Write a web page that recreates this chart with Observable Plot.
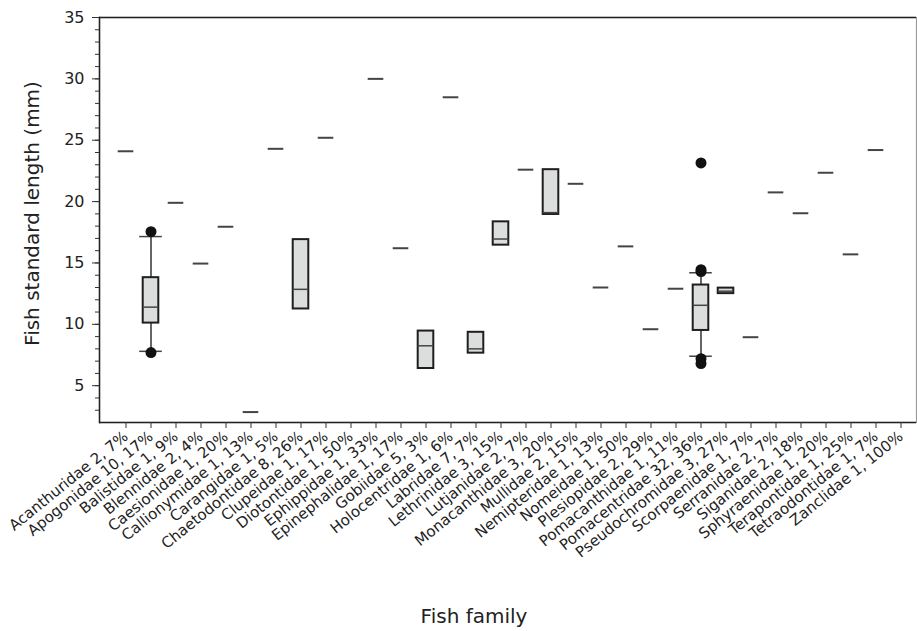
<!DOCTYPE html>
<html>
<head>
<meta charset="utf-8">
<script src="https://cdn.jsdelivr.net/npm/d3@7"></script>
<script src="https://cdn.jsdelivr.net/npm/@observablehq/plot@0.6"></script>
<style>
  html, body { margin: 0; padding: 0; background: #fff; }
  #chart svg { display: block; }
</style>
</head>
<body>
<div id="chart"></div>
<script>
// Categories and tick-label parts
const families = ["Acanthuridae","Apogonidae","Balistidae","Blennidae","Caesionidae","Callionymidae","Carangidae","Chaetodontidae","Clupeidae","Diotontidae","Ephippidae","Epinephalidae","Gobiidae","Holocentridae","Labridae","Lethrinidae","Lutjanidae","Monacanthidae","Mullidae","Nemipteridae","Nomeidae","Plesiopidae","Pomacanthidae","Pomacentridae","Pseudochromidae","Scorpaenidae","Serranidae","Siganidae","Sphyraenidae","Terapontidae","Tetraodontidae","Zanclidae"];
const familyCounts = [2,10,1,2,1,1,1,8,1,1,1,1,5,1,7,3,2,3,2,1,1,2,1,32,3,1,2,2,1,1,1,1];
const familyPercents = [7,17,9,4,20,13,5,26,17,50,33,17,3,6,7,15,7,20,15,13,50,29,11,36,27,7,7,18,20,25,7,100];
const yTicks = [5,10,15,20,25,30,35];

// Single-value families (drawn as a line)
const singleFamily = ["Acanthuridae","Balistidae","Blennidae","Caesionidae","Callionymidae","Carangidae","Clupeidae","Ephippidae","Epinephalidae","Holocentridae","Lutjanidae","Mullidae","Nemipteridae","Nomeidae","Plesiopidae","Pomacanthidae","Scorpaenidae","Serranidae","Siganidae","Sphyraenidae","Terapontidae","Tetraodontidae"];
const singleValue = [24.1,19.9,14.95,17.95,2.85,24.3,25.2,30.0,16.2,28.5,22.6,21.45,13.0,16.35,9.6,12.9,8.95,20.75,19.05,22.35,15.7,24.2];

// Boxes
const boxFamily = ["Apogonidae","Chaetodontidae","Gobiidae","Labridae","Lethrinidae","Monacanthidae","Pomacentridae","Pseudochromidae"];
const boxQ1 = [10.1,11.25,6.4,7.65,16.45,18.95,9.5,12.5];
const boxMedian = [11.4,12.85,8.25,8.0,16.95,19.1,11.55,12.7];
const boxQ3 = [13.8,16.9,9.45,9.35,18.35,22.6,13.2,12.95];

// Whiskers
const whiskerFamily = ["Apogonidae","Pomacentridae"];
const whiskerLow = [7.8,7.4];
const whiskerHigh = [17.15,14.2];

// Outliers
const outlierFamily = ["Apogonidae","Apogonidae","Pomacentridae","Pomacentridae","Pomacentridae","Pomacentridae","Pomacentridae"];
const outlierValue = [17.55,7.7,23.15,14.45,14.3,7.2,6.8];

const tickLabel = new Map(families.map((f, i) => [f, `${f} ${familyCounts[i]}, ${familyPercents[i]}%`]));

const singles = singleFamily.map((f, i) => ({family: f, value: singleValue[i]}));
const boxes = boxFamily.map((f, i) => ({family: f, q1: boxQ1[i], median: boxMedian[i], q3: boxQ3[i]}));
const whiskers = whiskerFamily.map((f, i) => ({family: f, lo: whiskerLow[i], hi: whiskerHigh[i]}));
const outliers = outlierFamily.map((f, i) => ({family: f, value: outlierValue[i]}));

const W = 917, H = 631;
const chart = Plot.plot({
  width: W,
  height: H,
  marginLeft: 99,
  marginRight: 1,
  marginTop: 17,
  marginBottom: 209,
  style: {fontFamily: "'DejaVu Sans', sans-serif", fontSize: "16px", color: "#222", background: "#fff"},
  x: {type: "band", domain: families, range: [108.9, 917.5], padding: 0},
  y: {domain: [2, 35]},
  marks: [
    Plot.frame({stroke: "#999", strokeWidth: 1.2}),
    Plot.ruleY([2, 35], {stroke: "#222", strokeWidth: 1.5}),
    Plot.frame({anchor: "left", stroke: "#222", strokeWidth: 1.5}),
    Plot.axisY({ticks: d3.range(3, 36), tickSize: 4, tickFormat: () => "", label: null, stroke: "#333"}),
    Plot.axisY({ticks: yTicks, tickSize: 7, tickPadding: 8, fontSize: 16, label: null, stroke: "#333", fill: "#222"}),
    Plot.axisX({tickSize: 6, tickRotate: -39, fontSize: 15, tickPadding: 6, label: null, tickFormat: d => tickLabel.get(d), stroke: "#333", fill: "#222"}),
    Plot.ruleX(whiskers, {x: "family", y1: "lo", y2: "hi", stroke: "#333", strokeWidth: 1.5}),
    Plot.tickY(whiskers, {x: "family", y: "lo", stroke: "#444", strokeWidth: 1.5, insetLeft: 1.2, insetRight: 1.2}),
    Plot.tickY(whiskers, {x: "family", y: "hi", stroke: "#444", strokeWidth: 1.5, insetLeft: 1.2, insetRight: 1.2}),
    Plot.barY(boxes, {x: "family", y1: "q1", y2: "q3", fill: "#dcdedd", stroke: "#1e1e1e", strokeWidth: 2, insetLeft: 4.7, insetRight: 4.7}),
    Plot.tickY(boxes, {x: "family", y: "median", stroke: "#444", strokeWidth: 1.5, insetLeft: 4.7, insetRight: 4.7}),
    Plot.tickY(singles, {x: "family", y: "value", stroke: "#444", strokeWidth: 2, insetLeft: 4.7, insetRight: 4.7}),
    Plot.dot(outliers, {x: "family", y: "value", r: 5.5, fill: "#111", stroke: null}),
    Plot.text(["Fish standard length (mm)"], {frameAnchor: "left", textAnchor: "middle", lineAnchor: "middle", rotate: -90, dx: -67, dy: -6.5, fontSize: 20, fill: "#222"}),
    Plot.text(["Fish family"], {frameAnchor: "bottom", textAnchor: "middle", lineAnchor: "middle", dx: -34, dy: 194, fontSize: 20, fill: "#222"})
  ]
});
document.getElementById("chart").appendChild(chart);
</script>
</body>
</html>
